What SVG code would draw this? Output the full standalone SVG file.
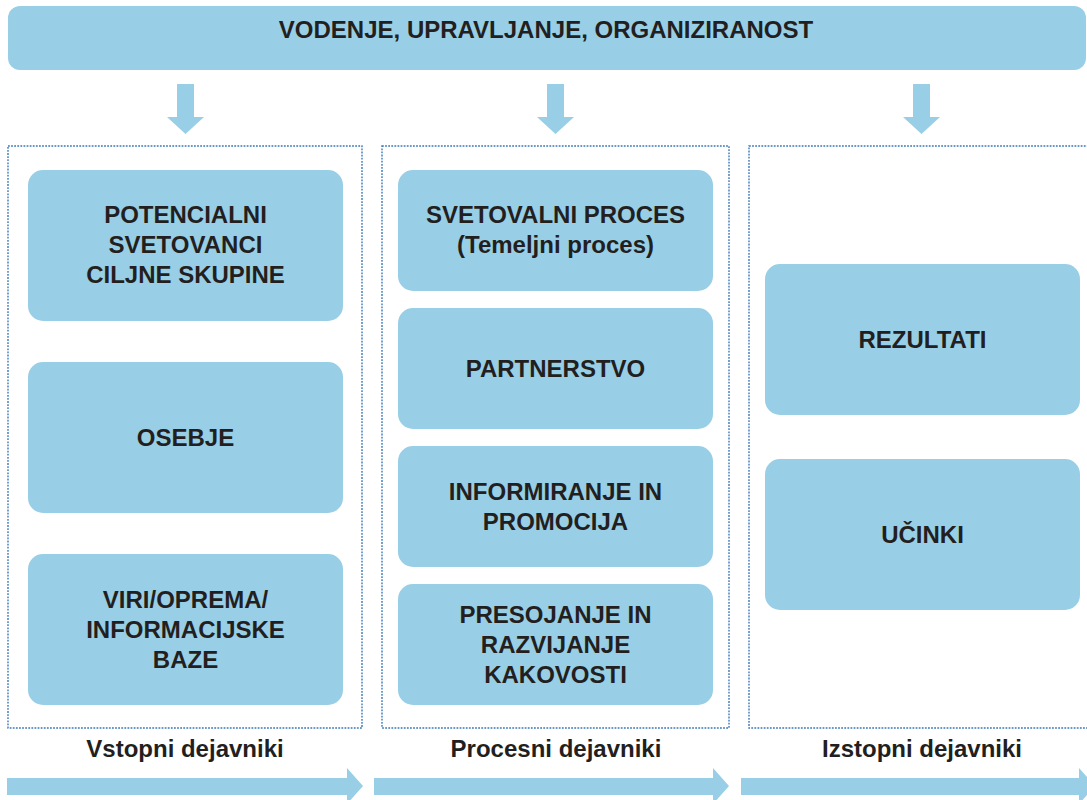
<svg xmlns="http://www.w3.org/2000/svg" width="1087" height="800" viewBox="0 0 1087 800">
  <defs>
    <style>
      .fill { fill: #98cfe6; }
      .frame { fill: none; stroke: #3a78b8; stroke-width: 1.4; stroke-dasharray: 1.8 1.3; }
      .t { font-family: "Liberation Sans", Arial, sans-serif; font-weight: bold; font-size: 24px; fill: #231f20; text-anchor: middle; }
    </style>
  </defs>

  <!-- leadership banner -->
  <g id="banner">
    <rect class="fill" x="8" y="6" width="1078" height="64" rx="12"/>
    <text class="t" x="546" y="38">VODENJE, UPRAVLJANJE, ORGANIZIRANOST</text>
  </g>

  <!-- down arrows from the banner -->
  <g id="connectors">
    <path class="fill" d="M177 84 H194 V117 H204 L185.5 134 L167 117 H177 Z"/>
    <path class="fill" d="M547 84 H564 V117 H574 L555.5 134 L537 117 H547 Z"/>
    <path class="fill" d="M913 84 H930 V117 H940 L921.5 134 L903 117 H913 Z"/>
    <!-- flow arrows along the bottom -->
    <path class="fill" d="M7 778 H347 V768 L363 786 L347 804 V795 H7 Z"/>
    <path class="fill" d="M374 778 H713 V768 L729 786 L713 804 V795 H374 Z"/>
    <path class="fill" d="M741 778 H1079 V768 L1095 786 L1079 804 V795 H741 Z"/>
  </g>

  <!-- column frames -->
  <g id="frames">
    <rect class="frame" x="8" y="146" width="354" height="582"/>
    <rect class="frame" x="382" y="146" width="347" height="582"/>
    <rect class="frame" x="749" y="146" width="345" height="582"/>
  </g>

  <!-- input factors -->
  <g id="potencialni">
    <rect class="fill" x="28" y="170" width="315" height="151" rx="15"/>
    <text class="t" x="185.5" y="223">POTENCIALNI</text>
    <text class="t" x="185.5" y="253">SVETOVANCI</text>
    <text class="t" x="185.5" y="283">CILJNE SKUPINE</text>
  </g>
  <g id="osebje">
    <rect class="fill" x="28" y="362" width="315" height="151" rx="15"/>
    <text class="t" x="185.5" y="446">OSEBJE</text>
  </g>
  <g id="viri">
    <rect class="fill" x="28" y="554" width="315" height="151" rx="15"/>
    <text class="t" x="185.5" y="608">VIRI/OPREMA/</text>
    <text class="t" x="185.5" y="638">INFORMACIJSKE</text>
    <text class="t" x="185.5" y="668">BAZE</text>
  </g>

  <!-- process factors -->
  <g id="svetovalni">
    <rect class="fill" x="398" y="170" width="315" height="121" rx="15"/>
    <text class="t" x="555.5" y="223">SVETOVALNI PROCES</text>
    <text class="t" x="555.5" y="253">(Temeljni proces)</text>
  </g>
  <g id="partnerstvo">
    <rect class="fill" x="398" y="308" width="315" height="121" rx="15"/>
    <text class="t" x="555.5" y="377">PARTNERSTVO</text>
  </g>
  <g id="informiranje">
    <rect class="fill" x="398" y="446" width="315" height="121" rx="15"/>
    <text class="t" x="555.5" y="500">INFORMIRANJE IN</text>
    <text class="t" x="555.5" y="530">PROMOCIJA</text>
  </g>
  <g id="presojanje">
    <rect class="fill" x="398" y="584" width="315" height="121" rx="15"/>
    <text class="t" x="555.5" y="623">PRESOJANJE IN</text>
    <text class="t" x="555.5" y="653">RAZVIJANJE</text>
    <text class="t" x="555.5" y="683">KAKOVOSTI</text>
  </g>

  <!-- output factors -->
  <g id="rezultati">
    <rect class="fill" x="765" y="264" width="315" height="151" rx="15"/>
    <text class="t" x="922.5" y="348">REZULTATI</text>
  </g>
  <g id="ucinki">
    <rect class="fill" x="765" y="459" width="315" height="151" rx="15"/>
    <text class="t" x="922.5" y="543">UČINKI</text>
  </g>

  <!-- column captions -->
  <g id="captions">
    <text class="t" x="185" y="757">Vstopni dejavniki</text>
    <text class="t" x="556" y="757">Procesni dejavniki</text>
    <text class="t" x="922" y="757">Izstopni dejavniki</text>
  </g>
</svg>
